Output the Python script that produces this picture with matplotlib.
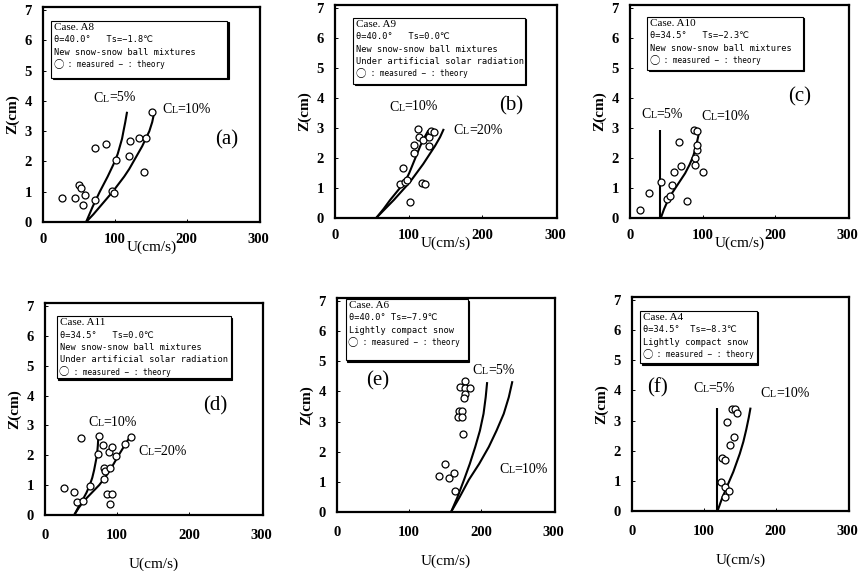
import matplotlib.pyplot as plt
from matplotlib.patches import Rectangle
import matplotlib.transforms as mtransforms

SERIF = ['Liberation Serif', 'DejaVu Serif']
MONO = ['DejaVu Sans Mono', 'DejaVu Sans', 'Noto Sans CJK JP']
CJK = ['Noto Sans CJK JP', 'DejaVu Sans']

# ---- data ----
# (a) Case A8
a_meas_u = [27, 45, 50, 53, 56, 59, 73, 72, 87, 101, 96, 99, 119, 121, 134, 144, 140, 151]
a_meas_z = [0.80, 0.78, 1.23, 1.12, 0.56, 0.89, 0.74, 2.44, 2.59, 2.04, 1.03, 0.96, 2.19, 2.66, 2.78, 2.78, 1.66, 3.64]
a_cl5_u = [60, 64.5, 69, 74, 79, 84.5, 90, 95, 100, 104, 107, 110, 112, 114.5, 117]
a_cl5_z = [0, 0.25, 0.5, 0.75, 1.0, 1.25, 1.5, 1.75, 2.0, 2.25, 2.5, 2.75, 3.0, 3.3, 3.64]
a_cl10_u = [60, 70, 79, 88, 97, 105, 113, 120, 126, 132, 138, 143, 148, 152, 155]
a_cl10_z = [0, 0.25, 0.5, 0.75, 1.0, 1.25, 1.5, 1.75, 2.0, 2.25, 2.5, 2.75, 3.0, 3.3, 3.64]

# (b) Case A9
b_meas_u = [113, 114, 107, 107, 120, 128, 131, 134, 128, 92, 88, 95, 98, 102, 119, 122]
b_meas_z = [2.97, 2.69, 2.42, 2.17, 2.61, 2.70, 2.89, 2.86, 2.39, 1.66, 1.14, 1.19, 1.28, 0.53, 1.18, 1.13]
b_cl10_u = [56, 66, 75, 85, 95, 101, 106, 111, 116, 122, 127]
b_cl10_z = [0, 0.3, 0.6, 0.9, 1.2, 1.5, 1.8, 2.1, 2.4, 2.7, 2.92]
b_cl20_u = [56, 68, 80, 91, 102, 111, 120, 128, 136, 143, 148]
b_cl20_z = [0, 0.3, 0.6, 0.9, 1.2, 1.5, 1.8, 2.1, 2.4, 2.7, 2.97]

# (c) Case A10
c_meas_u = [14, 26, 43, 51, 55, 58, 61, 68, 71, 79, 89, 90, 92, 92, 88, 92, 101]
c_meas_z = [0.28, 0.85, 1.21, 0.63, 0.74, 1.11, 1.55, 2.54, 1.75, 0.58, 1.76, 1.99, 2.27, 2.45, 2.93, 2.90, 1.52]
c_cl5_u = [41.5, 41.5]
c_cl5_z = [0, 2.93]
c_cl10_u = [42.5, 47, 52.7, 58, 64, 70, 76, 82, 87, 90.5, 93, 96]
c_cl10_z = [0, 0.3, 0.61, 0.83, 1.05, 1.27, 1.49, 1.77, 2.05, 2.33, 2.6, 2.93]

# (d) Case A11
d_meas_u = [26, 40.5, 44, 53, 62, 50, 75, 74, 80, 82, 83, 82, 88, 90, 92.5, 86.5, 92.5, 90, 99, 111, 119]
d_meas_z = [0.89, 0.76, 0.44, 0.48, 0.98, 2.58, 2.66, 2.03, 2.33, 1.58, 1.48, 1.20, 2.11, 1.58, 2.28, 0.69, 0.69, 0.36, 1.98, 2.37, 2.61]
d_cl10_u = [40.5, 46, 52, 57.5, 62, 65.5, 68, 70, 72, 73.2, 74]
d_cl10_z = [0, 0.25, 0.5, 0.75, 1.0, 1.25, 1.5, 1.75, 2.0, 2.33, 2.67]
d_cl20_u = [40.5, 47, 55, 65, 75, 83, 90, 96, 102, 107, 112, 119]
d_cl20_z = [0, 0.25, 0.5, 0.75, 1.0, 1.25, 1.5, 1.75, 2.0, 2.2, 2.4, 2.67]

# (e) Case A6
e_meas_u = [177, 170, 178, 184, 177, 176, 169, 173.5, 168, 173.5, 174, 149, 141, 155, 162, 163]
e_meas_z = [4.34, 4.16, 4.11, 4.11, 3.92, 3.77, 3.35, 3.35, 3.15, 3.15, 2.60, 1.59, 1.18, 1.13, 1.29, 0.70]
e_cl5_u = [158, 167, 176, 184, 191.5, 198, 203, 206, 208]
e_cl5_z = [0, 0.5, 1.07, 1.6, 2.16, 2.7, 3.26, 3.81, 4.31]
e_cl10_u = [158, 170, 182.7, 197, 210.3, 221, 231, 238, 243]
e_cl10_z = [0, 0.5, 1.07, 1.6, 2.16, 2.7, 3.26, 3.81, 4.34]

# (f) Case A4
f_meas_u = [139.6, 142.9, 145.8, 132.9, 142.2, 136.2, 125.6, 129.3, 123.7, 129.3, 135.3, 129.3]
f_meas_z = [3.40, 3.38, 3.25, 2.96, 2.44, 2.19, 1.77, 1.69, 0.96, 0.81, 0.67, 0.48]
f_cl5_u = [118, 118]
f_cl5_z = [0, 3.43]
f_cl10_u = [119, 125, 132, 141, 150, 155, 159, 162.5, 165]
f_cl10_z = [0, 0.4, 0.8, 1.3, 1.9, 2.3, 2.7, 3.1, 3.43]

LEG = ' : measured − : theory'
a_text = ['Case. A8', 'θ=40.0°   Ts=−1.8℃', 'New snow-snow ball mixtures']
b_text = ['Case. A9', 'θ=40.0°   Ts=0.0℃', 'New snow-snow ball mixtures',
          'Under artificial solar radiation']
c_text = ['Case. A10', 'θ=34.5°   Ts=−2.3℃', 'New snow-snow ball mixtures']
d_text = ['Case. A11', 'θ=34.5°   Ts=0.0℃', 'New snow-snow ball mixtures',
          'Under artificial solar radiation']
e_text = ['Case. A6', 'θ=40.0° Ts=−7.9℃', 'Lightly compact snow']
f_text = ['Case. A4', 'θ=34.5°  Ts=−8.3℃', 'Lightly compact snow']

# layout: pixel frame (left, right, top, bottom), legend box in axes fraction,
# curve label anchors (data coords) and panel letter anchors
panels = [
    dict(px=(43, 260, 7, 222), tag='(a)', tagxy=(255, 2.7), text=a_text, box=(0.037, 0.85, 0.67, 0.935),
         meas=(a_meas_u, a_meas_z), curves=[(a_cl5_u, a_cl5_z), (a_cl10_u, a_cl10_z)],
         labels=[('5', 70.6, 4.09), ('10', 166, 3.72)], top=True),
    dict(px=(335, 557, 5, 218), tag='(b)', tagxy=(239, 3.74), text=b_text, box=(0.082, 0.855, 0.63, 0.94),
         meas=(b_meas_u, b_meas_z), curves=[(b_cl10_u, b_cl10_z), (b_cl20_u, b_cl20_z)],
         labels=[('10', 74, 3.69), ('20', 161.5, 2.92)], top=True),
    dict(px=(630, 849, 5, 218), tag='(c)', tagxy=(234, 4.03), text=c_text, box=(0.078, 0.788, 0.695, 0.944),
         meas=(c_meas_u, c_meas_z), curves=[(c_cl5_u, c_cl5_z), (c_cl10_u, c_cl10_z)],
         labels=[('5', 15.2, 3.45), ('10', 98.3, 3.37)], top=True),
    dict(px=(45, 263, 303, 515), tag='(d)', tagxy=(236, 3.65), text=d_text, box=(0.055, 0.853, 0.645, 0.938),
         meas=(d_meas_u, d_meas_z), curves=[(d_cl10_u, d_cl10_z), (d_cl20_u, d_cl20_z)],
         labels=[('10', 60.3, 3.09), ('20', 129, 2.13)], top=False),
    dict(px=(337, 555, 298, 512), tag='(e)', tagxy=(56, 4.36), text=e_text, box=(0.04, 0.6, 0.71, 0.995),
         meas=(e_meas_u, e_meas_z), curves=[(e_cl5_u, e_cl5_z), (e_cl10_u, e_cl10_z)],
         labels=[('5', 188, 4.69), ('10', 225, 1.40)], top=False),
    dict(px=(632, 849, 297, 511), tag='(f)', tagxy=(35.6, 4.1), text=f_text, box=(0.037, 0.575, 0.69, 0.935),
         meas=(f_meas_u, f_meas_z), curves=[(f_cl5_u, f_cl5_z), (f_cl10_u, f_cl10_z)],
         labels=[('5', 85.5, 4.07), ('10', 179, 3.90)], top=False),
]

W, H = 866, 571
fig = plt.figure(figsize=(W / 100, H / 100), dpi=100)


def cl_label(ax, x, y, pct):
    c = ax.text(x, y, 'C', fontsize=10, family=SERIF, ha='left', va='center')
    l = ax.annotate('L', xy=(1, 0.08), xycoords=c, fontsize=7, family=SERIF, ha='left', va='bottom')
    ax.annotate('=%s%%' % pct, xy=(1, -0.08), xycoords=l, fontsize=10, family=SERIF, ha='left', va='bottom')


for p in panels:
    l, r, t, b = p['px']
    ax = fig.add_axes([l / W, (H - b) / H, (r - l) / W, (b - t) / H])
    ax.set_xlim(0, 302)
    ax.set_ylim(0, 7.1)
    ax.set_xticks([0, 100, 200, 300])
    ax.set_yticks(range(8))
    for s in ax.spines.values():
        s.set_linewidth(1.6)
    ax.tick_params(direction='in', length=2.5, width=0.7,
                   pad=8 if p['top'] else 10, labelsize=10.5)
    ax.tick_params(axis='y', pad=8)
    for lab in ax.get_xticklabels() + ax.get_yticklabels():
        lab.set_family(SERIF)
        lab.set_fontweight('bold')

    ax.set_xlabel('U(cm/s)', fontsize=11, family=SERIF)
    ax.xaxis.label.set_va('center')
    ax.xaxis.set_label_coords(0.5, (-25 if p['top'] else -49) / (b - t))
    ax.set_ylabel('Z(cm)', fontsize=11, family=SERIF, fontweight='bold')
    ax.yaxis.label.set_va('center')
    ax.yaxis.set_label_coords(-30 / (r - l), 0.5)

    for cu, cz in p['curves']:
        ax.plot(cu, cz, color='black', lw=1.5, solid_capstyle='butt', solid_joinstyle='round')
    mu, mz = p['meas']
    ax.plot(mu, mz, 'o', ms=5, mfc='white', mec='black', mew=0.9, zorder=3)

    for pct, x, y in p['labels']:
        cl_label(ax, x, y, pct)
    ax.text(p['tagxy'][0], p['tagxy'][1], p['tag'], fontsize=15, family=SERIF,
            ha='center', va='center')

    # legend box with drop shadow
    x0, x1, y0, y1 = p['box']
    shadow_tr = mtransforms.offset_copy(ax.transAxes, fig=fig, x=1.5, y=-1.5, units='dots')
    ax.add_patch(Rectangle((x0, y0), x1 - x0, y1 - y0, transform=shadow_tr,
                           facecolor='black', edgecolor='black', lw=0.8, zorder=4, clip_on=False))
    ax.add_patch(Rectangle((x0, y0), x1 - x0, y1 - y0, transform=ax.transAxes,
                           facecolor='white', edgecolor='black', lw=0.8, zorder=5, clip_on=False))
    lines = p['text']
    for i, line in enumerate(lines):
        if i == 0:
            kw = dict(fontsize=8, family=SERIF)
        else:
            kw = dict(fontsize=6.2, family=MONO)
        ax.annotate(line, xy=(x0, y1), xycoords='axes fraction',
                    xytext=(3, -6.5 - 12.4 * i), textcoords='offset pixels',
                    ha='left', va='center', zorder=6, **kw)
    # last line: big open circle + key text
    circ = ax.annotate('○', xy=(x0, y1), xycoords='axes fraction',
                       xytext=(2, -6.5 - 12.4 * len(lines)), textcoords='offset pixels',
                       ha='left', va='center', zorder=6, fontsize=7.5, family=CJK)
    ax.annotate(LEG, xy=(1, 0.5), xycoords=circ, ha='left', va='center',
                zorder=6, fontsize=5.5, family=MONO)

fig.savefig('out.png', dpi=100)
